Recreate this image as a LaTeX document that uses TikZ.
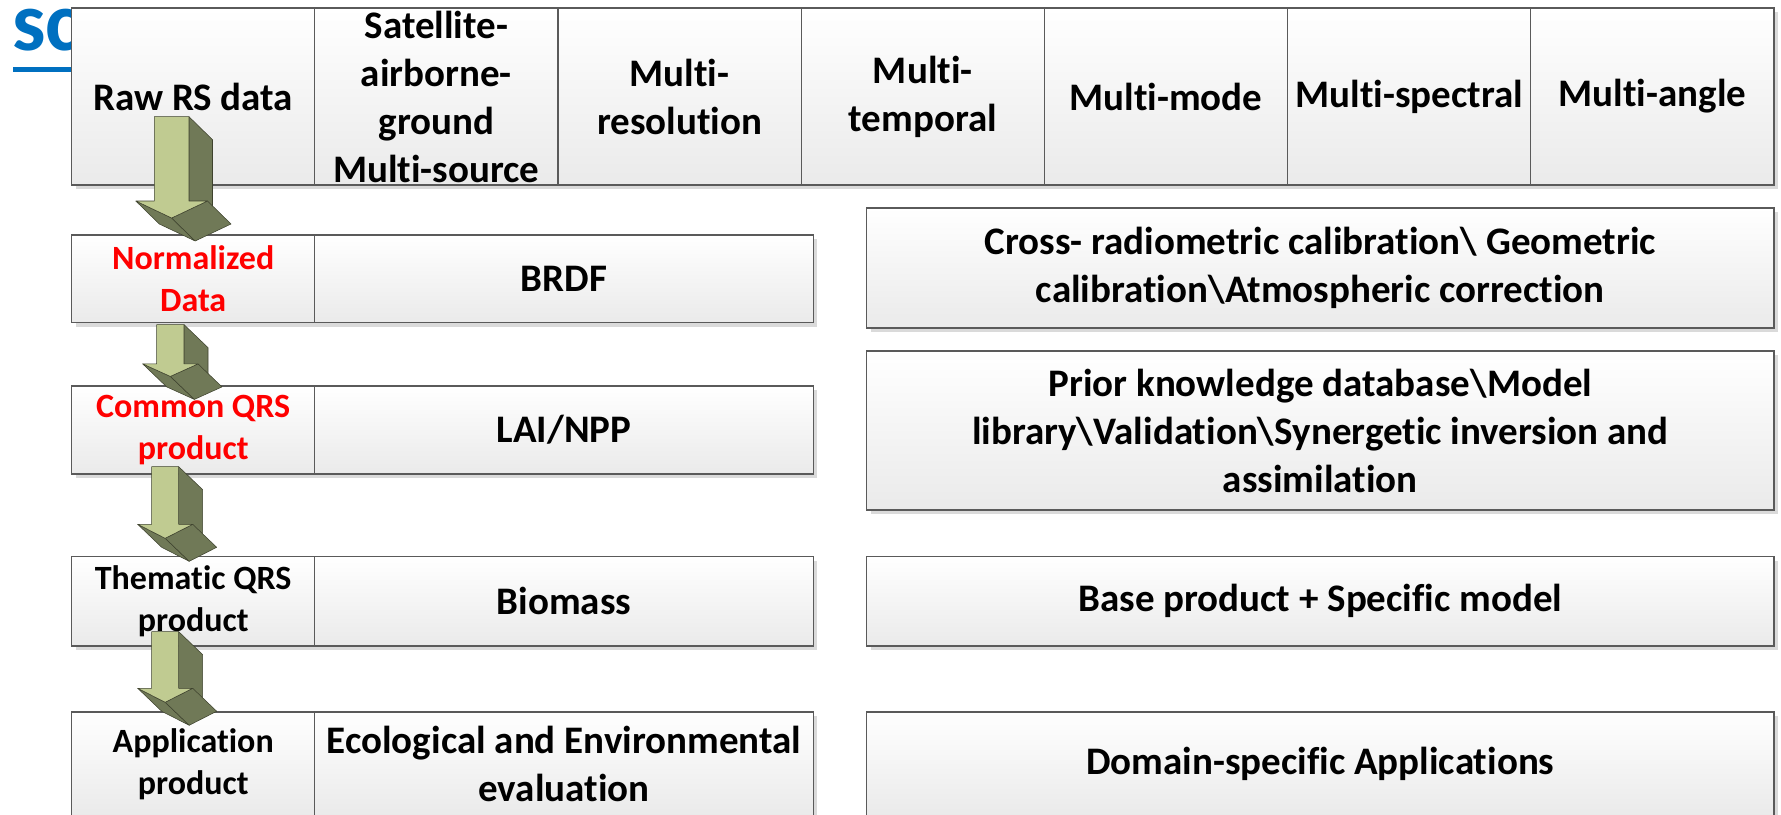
\documentclass[tikz,border=0pt]{standalone}
\usepackage{fontspec}
\setmainfont{Carlito}[Ligatures=NoCommon]
\usetikzlibrary{positioning,shadows}

\definecolor{boxline}{RGB}{90,90,90}
\definecolor{boxbottom}{RGB}{234,234,234}
\definecolor{boxshadow}{RGB}{218,218,218}
\definecolor{arrowface}{RGB}{192,203,145}
\definecolor{arrowdark}{RGB}{112,121,87}
\definecolor{arrowline}{RGB}{62,66,46}
\definecolor{titleblue}{RGB}{0,112,192}
\definecolor{textred}{RGB}{255,0,0}

\tikzset{
  cell/.style={draw=boxline, line width=0.9pt, top color=white, bottom color=boxbottom,
    drop shadow={shadow xshift=3pt, shadow yshift=-3pt, fill=boxshadow, opacity=1},
    inner sep=1pt, outer sep=0pt, align=center,
    font=\fontsize{29.25}{36}\selectfont\bfseries},
  topcell/.style={cell, minimum width=182.4pt, minimum height=132.75pt},
  leftcell/.style={cell, minimum width=182.4pt, font=\fontsize{25.5}{31.5}\selectfont\bfseries},
  midcell/.style={cell, minimum width=373.8pt},
  rightcell/.style={cell, minimum width=680.55pt},
  arrowfront/.style={fill=arrowface, draw=arrowline, line width=0.4pt, line join=round},
  arrowside/.style={fill=arrowdark, draw=arrowline, line width=0.4pt, line join=round},
}

\begin{document}
\begin{tikzpicture}[x=0.75pt,y=0.75pt,yscale=-1,xscale=1]
\useasboundingbox (0,0) rectangle (1781,814);
\clip (0,0) rectangle (1781,814);

% Text Node (title, mostly hidden)
\node [anchor=base west, inner sep=0pt, text=titleblue, font=\fontsize{63}{66}\selectfont\bfseries] (scword) at (12,50) {sc};
\draw [titleblue, line width=3.5pt] (13,69.5) -- (90,69.5);

%Top row
\node [topcell, anchor=north west] (raw) at (71.6,8) {Raw RS data};
\node [topcell, right=0pt of raw] (multisrc) {Satellite-\\airborne-\\ground\\Multi-source};
\node [topcell, right=0pt of multisrc] (multires) {Multi-\\resolution};
\node [topcell, right=0pt of multires] (multitemp) {Multi-\\temporal};
\node [topcell, right=0pt of multitemp] (multimode) {Multi-mode};
\node [topcell, right=0pt of multimode] (multispec) {Multi-spectral};
\node [topcell, right=0pt of multispec] (multiangle) {Multi-angle};

%Normalized data row
\node [leftcell, minimum height=65.7pt, text=textred, anchor=north west] (normdata) at (71.6,235) {Normalized\\Data};
\node [midcell, minimum height=65.7pt, right=0pt of normdata] (brdf) {BRDF};
\node [rightcell, minimum height=90pt, anchor=north west] (calib) at (866.6,208) {Cross- radiometric calibration\textbackslash{} Geometric\\calibration\textbackslash Atmospheric correction};

%Common QRS row
\node [leftcell, minimum height=66pt, text=textred, anchor=north west] (commonqrs) at (71.6,386) {Common QRS\\product};
\node [midcell, minimum height=66pt, right=0pt of commonqrs] (lainpp) {LAI/NPP};
\node [rightcell, minimum height=119.25pt, anchor=north west] (priorkb) at (866.6,351) {Prior knowledge database\textbackslash Model\\library\textbackslash Validation\textbackslash Synergetic inversion and\\assimilation};

%Thematic QRS row
\node [leftcell, minimum height=67.1pt, anchor=north west] (thematic) at (71.6,556.5) {Thematic QRS\\product};
\node [midcell, minimum height=67.1pt, right=0pt of thematic] (biomass) {Biomass};
\node [rightcell, minimum height=67.1pt, anchor=north west] (baseprod) at (866.6,556.5) {Base product + Specific model};

%Application row
\node [leftcell, minimum height=78pt, anchor=north west] (appprod) at (71.6,712) {Application\\product};
\node [midcell, minimum height=78pt, right=0pt of appprod] (ecoeval) {Ecological and Environmental\\evaluation};
\node [rightcell, minimum height=78pt, anchor=north west] (domainapp) at (866.6,712) {Domain-specific Applications};

%Block Arrow: raw -> normdata
\begin{scope}[shift={(raw.south west)}, shift={(82.7,-68.3)}]
\draw [arrowside] (34.7,0) -- (58.2,23) -- (58.2,107.3) -- (34.7,84.3) -- cycle;
\draw [arrowside] (-18.5,84.3) -- (17.35,101.3) -- (40.85,124.3) -- (5,107.3) -- cycle;
\draw [arrowside] (53.2,84.3) -- (76.7,107.3) -- (40.85,124.3) -- (17.35,101.3) -- cycle;
\draw [arrowfront] (0,0) -- (34.7,0) -- (34.7,84.3) -- (53.2,84.3) -- (17.35,101.3) -- (-18.5,84.3) -- (0,84.3) -- cycle;
\end{scope}

%Block Arrow: normdata -> commonqrs
\begin{scope}[shift={(normdata.south west)}, shift={(85.1,2)}]
\draw [arrowside] (27.3,0) -- (51.3,23) -- (51.3,62.3) -- (27.3,39.3) -- cycle;
\draw [arrowside] (-14,39.3) -- (13.65,51.8) -- (37.65,74.8) -- (10,62.3) -- cycle;
\draw [arrowside] (41.3,39.3) -- (65.3,62.3) -- (37.65,74.8) -- (13.65,51.8) -- cycle;
\draw [arrowfront] (0,0) -- (27.3,0) -- (27.3,39.3) -- (41.3,39.3) -- (13.65,51.8) -- (-14,39.3) -- (0,39.3) -- cycle;
\end{scope}

%Block Arrow: commonqrs -> thematic
\begin{scope}[shift={(commonqrs.south west)}, shift={(80.1,-7.3)}]
\draw [arrowside] (27,0) -- (51,23) -- (51,80.6) -- (27,57.6) -- cycle;
\draw [arrowside] (-14,57.6) -- (13.5,71.6) -- (37.5,94.6) -- (10,80.6) -- cycle;
\draw [arrowside] (41,57.6) -- (65,80.6) -- (37.5,94.6) -- (13.5,71.6) -- cycle;
\draw [arrowfront] (0,0) -- (27,0) -- (27,57.6) -- (41,57.6) -- (13.5,71.6) -- (-14,57.6) -- (0,57.6) -- cycle;
\end{scope}

%Block Arrow: thematic -> appprod
\begin{scope}[shift={(thematic.south west)}, shift={(80.1,-14.3)}]
\draw [arrowside] (27,0) -- (51,23) -- (51,79.6) -- (27,56.6) -- cycle;
\draw [arrowside] (-14,56.6) -- (13.5,70.6) -- (37.5,93.6) -- (10,79.6) -- cycle;
\draw [arrowside] (41,56.6) -- (65,79.6) -- (37.5,93.6) -- (13.5,70.6) -- cycle;
\draw [arrowfront] (0,0) -- (27,0) -- (27,56.6) -- (41,56.6) -- (13.5,70.6) -- (-14,56.6) -- (0,56.6) -- cycle;
\end{scope}

\end{tikzpicture}
\end{document}
